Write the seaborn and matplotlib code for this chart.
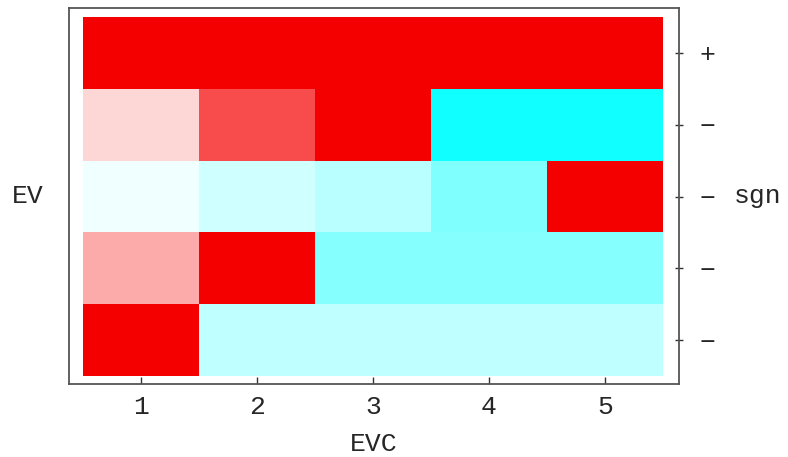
import numpy as np
import pandas as pd
import matplotlib
matplotlib.use("Agg")
import matplotlib.pyplot as plt
from matplotlib.colors import LinearSegmentedColormap
import seaborn as sns

# Data: signed intensity per cell (rows top->bottom, columns EVC 1..5)
row1 = [1.0, 1.0, 1.0, 1.0, 1.0]
row2 = [0.16, 0.70, 1.0, -0.93, -0.93]
row3 = [-0.06, -0.18, -0.27, -0.50, 1.0]
row4 = [0.33, 1.0, -0.47, -0.47, -0.47]
row5 = [1.0, -0.25, -0.25, -0.25, -0.25]
x_labels = ["1", "2", "3", "4", "5"]
sign_labels = ["+", "\u2212", "\u2212", "\u2212", "\u2212"]

df = pd.DataFrame([row1, row2, row3, row4, row5], columns=x_labels)

sns.set_theme(style="white")
plt.rcParams['font.family'] = ['Liberation Mono', 'DejaVu Sans Mono', 'DejaVu Sans']

cmap = LinearSegmentedColormap.from_list(
    "cw", [(0.0, "#00ffff"), (0.5, "#ffffff"), (1.0, "#f50000")])

fig = plt.figure(figsize=(7.88, 4.57), dpi=100)
ax = fig.add_axes([69 / 788, 1 - 384 / 457, 610 / 788, 376 / 457])

sns.heatmap(df, ax=ax, cmap=cmap, vmin=-1, vmax=1, cbar=False,
            linewidths=0, square=False)

ax.set_xlim(-0.12, 5.14)
ax.set_ylim(5.11, -0.125)

for s in ax.spines.values():
    s.set_visible(True)
    s.set_color("#555555")
    s.set_linewidth(1.3)

ax.set_xticks(np.arange(5) + 0.5)
ax.set_xticklabels(x_labels, fontsize=19, rotation=0)
ax.yaxis.tick_right()
ax.set_yticks(np.arange(5) + 0.5)
ax.set_yticklabels(sign_labels, fontsize=19, rotation=0)
ax.tick_params(axis="x", direction="in", length=5, width=1, color="#333333",
               pad=8, bottom=True)
ax.tick_params(axis="y", direction="inout", length=6, width=1, color="#333333",
               pad=12, right=True, left=False)

ax.set_xlabel("EVC", fontsize=19, labelpad=9)
ax.set_ylabel("")
fig.text(28 / 788, 1 - 196 / 457, "EV", fontsize=19, ha="center", va="center")
fig.text(758 / 788, 1 - 196 / 457, "sgn", fontsize=19, ha="center", va="center")

fig.savefig("out.png", dpi=100)
